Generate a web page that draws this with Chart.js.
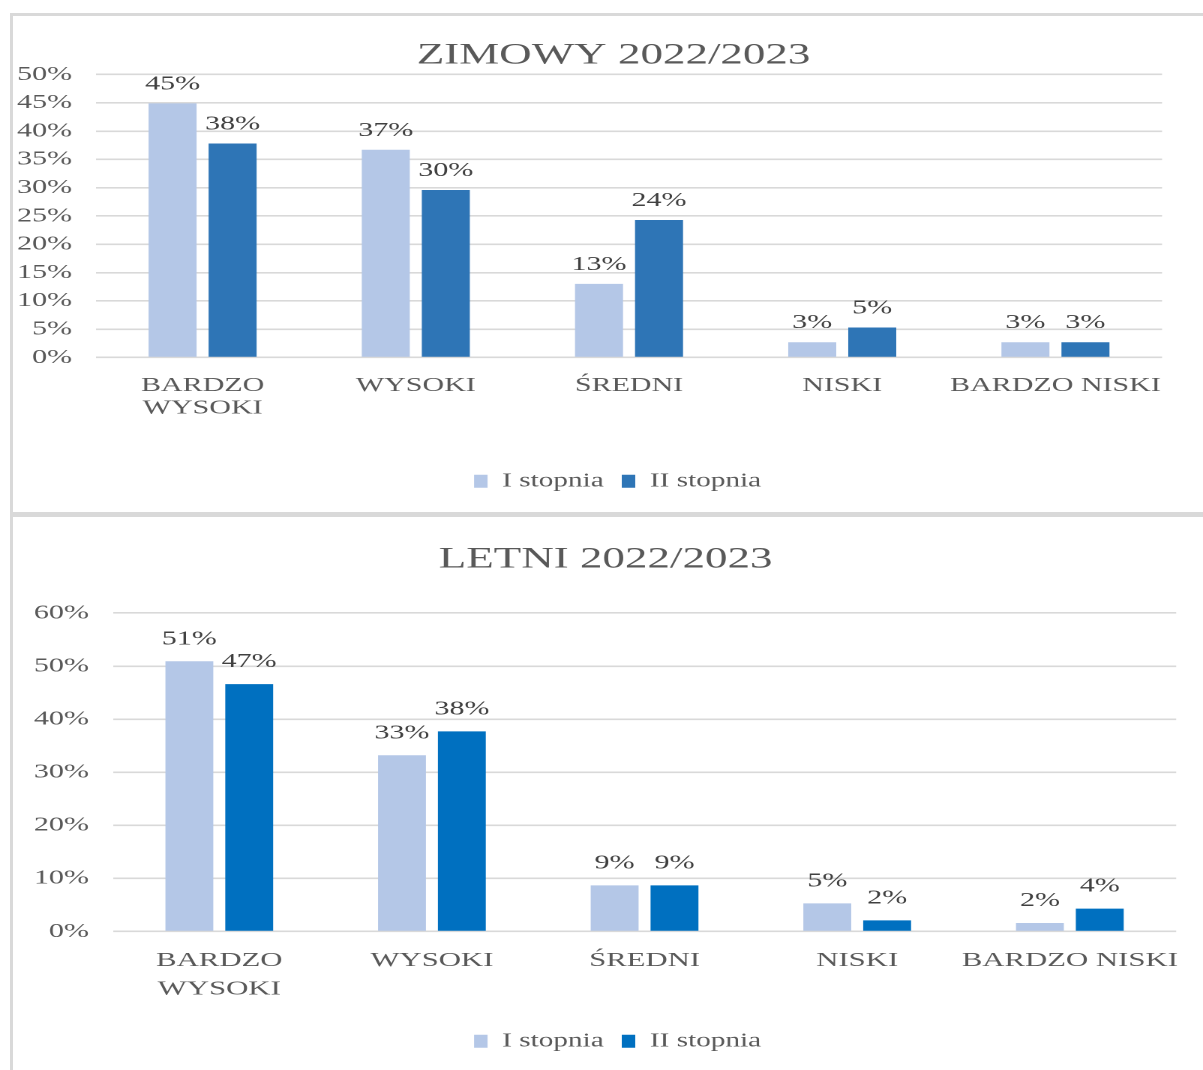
<!DOCTYPE html>
<html>
<head>
<meta charset="utf-8">
<script src="https://cdn.jsdelivr.net/npm/chart.js@4.4.1/dist/chart.umd.min.js"></script>
<style>
  html, body { margin: 0; padding: 0; background: #ffffff; }
  body { width: 1203px; height: 1070px; position: relative; overflow: hidden; }
  .box { position: absolute; box-sizing: border-box; border-left: 3px solid #d9d9d9; border-top: 3px solid #d9d9d9; }
  #boxTop { left: 10px; top: 13px; width: 1200px; height: 501px; border-bottom: 2px solid #d9d9d9; }
  #boxBottom { left: 10px; top: 513px; width: 1200px; height: 560px; border-top: 4px solid #d9d9d9; }
  canvas { position: absolute; }
  #cTop { left: 12px; top: 16px; width: 1191px; height: 495px; }
  #cBottom { left: 12px; top: 517px; width: 1191px; height: 553px; }
</style>
</head>
<body>
<div class="box" id="boxTop"></div>
<div class="box" id="boxBottom"></div>
<canvas id="cTop" width="794" height="495" style="width:1191px;height:495px"></canvas>
<canvas id="cBottom" width="794" height="553" style="width:1191px;height:553px"></canvas>
<script>
// ---- data ----
const categories = [['BARDZO', 'WYSOKI'], 'WYSOKI', 'ŚREDNI', 'NISKI', 'BARDZO NISKI'];
const seriesNames = ['I stopnia', 'II stopnia'];
const winterTitle = 'ZIMOWY 2022/2023';
const summerTitle = 'LETNI 2022/2023';
const winterFirst = [44.9, 36.7, 13.0, 2.7, 2.7];
const winterSecond = [37.8, 29.6, 24.3, 5.3, 2.7];
const summerFirst = [50.9, 33.2, 8.7, 5.3, 1.6];
const summerSecond = [46.6, 37.7, 8.7, 2.1, 4.3];
const winterTicks = { max: 50, step: 5 };
const summerTicks = { max: 60, step: 10 };

const FONT = '"Liberation Serif", "Times New Roman", serif';
const GRAY = '#595959';

const valueLabels = {
  id: 'valueLabels',
  afterDatasetsDraw(chart, args, opts) {
    const ctx = chart.ctx;
    ctx.save();
    ctx.font = opts.size + 'px ' + FONT;
    ctx.fillStyle = opts.color;
    ctx.textAlign = 'center';
    ctx.textBaseline = 'alphabetic';
    chart.data.datasets.forEach((ds, i) => {
      const meta = chart.getDatasetMeta(i);
      meta.data.forEach((el, j) => {
        ctx.fillText(Math.round(ds.data[j]) + '%', el.x, el.y - opts.offset);
      });
    });
    ctx.restore();
  }
};

// shift legend / title horizontally after layout
const boxShift = {
  id: 'boxShift',
  afterLayout(chart, args, opts) {
    const l = chart.legend;
    if (l && opts.legendDx) { l.left += opts.legendDx; l.right += opts.legendDx; }
    const t = chart.titleBlock;
    if (t && opts.titleDx) { t.left += opts.titleDx; t.right += opts.titleDx; }
  }
};

function makeChart(id, cfg) {
  return new Chart(document.getElementById(id), {
    type: 'bar',
    data: {
      labels: categories,
      datasets: [
        { label: seriesNames[0], data: cfg.first, backgroundColor: '#b4c7e7', borderWidth: 0,
          categoryPercentage: 0.563, barPercentage: 0.8 },
        { label: seriesNames[1], data: cfg.second, backgroundColor: cfg.dark, borderWidth: 0,
          categoryPercentage: 0.563, barPercentage: 0.8 }
      ]
    },
    options: {
      responsive: false,
      devicePixelRatio: 2,
      animation: false,
      layout: { padding: cfg.layout },
      scales: {
        x: {
          grid: { display: false, drawTicks: false },
          border: { display: false },
          afterFit: (s) => { s.height = cfg.xHeight; },
          ticks: {
            color: GRAY, autoSkip: false, maxRotation: 0, minRotation: 0,
            padding: cfg.xPad,
            font: { family: FONT, size: cfg.xFont, lineHeight: cfg.xLine }
          }
        },
        y: {
          min: 0, max: cfg.ticks.max,
          grid: { color: '#d9d9d9', lineWidth: 1.6, drawTicks: false },
          border: { display: false },
          afterFit: (s) => { s.width = cfg.yWidth; },
          ticks: {
            stepSize: cfg.ticks.step, color: GRAY, padding: 16,
            font: { family: FONT, size: 20 },
            callback: (v) => v + '%'
          }
        }
      },
      plugins: {
        title: {
          display: true, text: cfg.title, color: GRAY,
          font: { family: FONT, size: 30, weight: 'normal', lineHeight: 1.2 },
          padding: cfg.titlePad
        },
        legend: {
          position: 'bottom',
          labels: {
            boxWidth: 9, boxHeight: 13, padding: 12, color: GRAY,
            font: { family: FONT, size: 19.5 }
          }
        },
        tooltip: { enabled: false },
        valueLabels: { size: 20, color: '#404040', offset: cfg.labelOffset },
        boxShift: { legendDx: cfg.legendDx, titleDx: cfg.titleDx }
      }
    },
    plugins: [valueLabels, boxShift]
  });
}

makeChart('cTop', {
  first: winterFirst, second: winterSecond, dark: '#2e75b6', title: winterTitle, ticks: winterTicks,
  layout: { left: 2, right: 27.3, top: 0, bottom: 10 },
  titlePad: { top: 21.5, bottom: 1 },
  xHeight: 102, xPad: 16.75, xFont: 20, xLine: 1.125, yWidth: 54, labelOffset: 14,
  legendDx: 19.4, titleDx: 16.7
});

makeChart('cBottom', {
  first: summerFirst, second: summerSecond, dark: '#0070c0', title: summerTitle, ticks: summerTicks,
  layout: { left: 10, right: 17.3, top: 0, bottom: 9 },
  titlePad: { top: 24.5, bottom: 35.5 },
  xHeight: 88, xPad: 15, xFont: 20.5, xLine: 1.38, yWidth: 57.3, labelOffset: 17,
  legendDx: 10.4, titleDx: 2.4
});
</script>
</body>
</html>
